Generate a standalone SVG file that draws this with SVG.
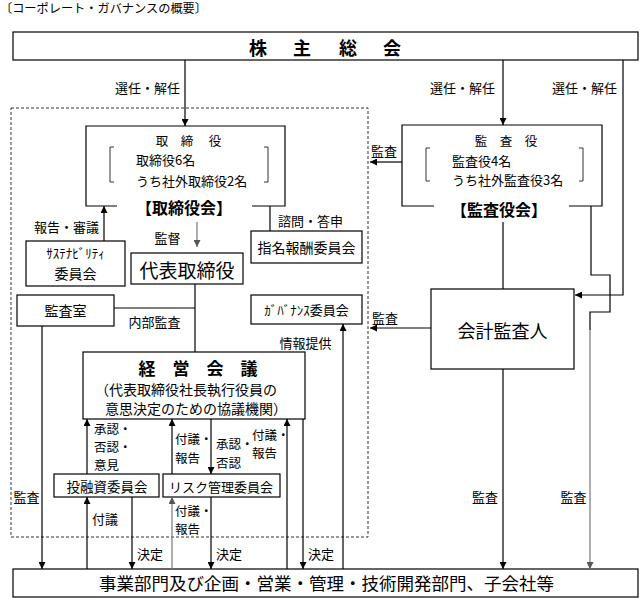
<svg xmlns="http://www.w3.org/2000/svg" width="640" height="598" viewBox="0 0 640 598">
<style>
text{font-family:"Noto Sans CJK JP","Noto Sans",sans-serif;fill:#000;dominant-baseline:central}
.lb{font-size:13px}
.sm{font-size:12.5px}
.bx{font-size:14px}
.c{text-anchor:middle}
.b{font-weight:bold}
.box{fill:#fff;stroke:#000;stroke-width:1.2}
.open{fill:none;stroke:#000;stroke-width:1.2}
.ln{fill:none;stroke:#000;stroke-width:1.2}
.gy{fill:none;stroke:#777;stroke-width:1.2}
.br{fill:none;stroke:#333;stroke-width:1}
</style>
<defs>
<marker id="ah" markerUnits="userSpaceOnUse" markerWidth="7" markerHeight="7" refX="7" refY="3.5" orient="auto"><path d="M0,0 L7,3.5 L0,7 z" fill="#000"/></marker>
<marker id="ahg" markerUnits="userSpaceOnUse" markerWidth="7" markerHeight="7" refX="7" refY="3.5" orient="auto"><path d="M0,0 L7,3.5 L0,7 z" fill="#555"/></marker>
</defs>
<rect width="640" height="598" fill="#fff"/>
<text x="0" y="8" style="font-size:12.2px">〔コーポレート・ガバナンスの概要〕</text>

<g id="outline"><rect x="11" y="108" width="357" height="429" fill="none" stroke="#333" stroke-width="1" stroke-dasharray="3,2"/></g>

<g id="shareholders">
<rect class="box" x="13" y="32" width="625" height="28"/>
<text class="c b" x="258" y="47" style="font-size:18px">株</text>
<text class="c b" x="302" y="47" style="font-size:18px">主</text>
<text class="c b" x="348" y="47" style="font-size:18px">総</text>
<text class="c b" x="392" y="47" style="font-size:18px">会</text>
</g>

<g id="board">
<path class="open" d="M117 206 H86 V126 H285 V206 H252"/>
<text class="c sm" x="162" y="140">取</text>
<text class="c sm" x="187" y="140">締</text>
<text class="c sm" x="215" y="140">役</text>
<path class="br" d="M114 147 H110 V182 H114 M264 147 H268 V182 H264"/>
<text class="lb" x="136" y="159">取締役6名</text>
<text class="lb" x="136" y="180">うち社外取締役2名</text>
<text class="c b" x="184" y="207" style="font-size:16px">【取締役会】</text>
</g>

<g id="auditors">
<path class="open" d="M434 206 H402 V125 H602 V206 H569"/>
<text class="c sm" x="481" y="140">監</text>
<text class="c sm" x="506" y="140">査</text>
<text class="c sm" x="531" y="140">役</text>
<path class="br" d="M430 148 H426 V181 H430 M579 148 H583 V181 H579"/>
<text class="lb" x="452" y="160">監査役4名</text>
<text class="lb" x="452" y="179">うち社外監査役3名</text>
<text class="c b" x="499" y="209" style="font-size:16px">【監査役会】</text>
</g>

<g id="sustainability">
<rect class="box" x="26" y="241" width="99" height="45"/>
<text class="c lb" x="75.5" y="252">ｻｽﾃﾅﾋﾞﾘﾃｨ</text>
<text class="c bx" x="75.5" y="273">委員会</text>
</g>

<g id="nomination">
<rect class="box" x="251" y="231" width="111" height="32"/>
<text class="c bx" x="306.5" y="247">指名報酬委員会</text>
</g>

<g id="representative">
<rect class="box" x="131" y="253" width="112" height="31"/>
<text class="c" x="187" y="269" style="font-size:19px">代表取締役</text>
</g>

<g id="audit-office">
<rect class="box" x="17" y="295" width="97" height="31"/>
<text class="c bx" x="65.5" y="310">監査室</text>
</g>

<g id="governance">
<rect class="box" x="251" y="295" width="111" height="29"/>
<text class="c lb" x="306.5" y="309">ｶﾞﾊﾞﾅﾝｽ委員会</text>
</g>

<g id="management">
<rect class="box" x="83" y="352" width="222" height="67"/>
<text class="c b" x="147" y="367" style="font-size:17px">経</text>
<text class="c b" x="181" y="367" style="font-size:17px">営</text>
<text class="c b" x="215" y="367" style="font-size:17px">会</text>
<text class="c b" x="249" y="367" style="font-size:17px">議</text>
<text class="c" x="186" y="389" style="font-size:14px">（代表取締役社長執行役員の</text>
<text class="c" x="196" y="408" style="font-size:14px">意思決定のための協議機関）</text>
</g>

<g id="investment">
<rect class="box" x="54" y="474" width="105" height="23"/>
<text class="c" x="107" y="486" style="font-size:13.5px">投融資委員会</text>
</g>

<g id="risk">
<rect class="box" x="163" y="474" width="117" height="23"/>
<text class="c" x="221" y="486" style="font-size:13px">リスク管理委員会</text>
</g>

<g id="accounting-auditor">
<rect class="box" x="431" y="289" width="143" height="80"/>
<text class="c" x="502.5" y="330" style="font-size:18px">会計監査人</text>
</g>

<g id="business">
<rect class="box" x="13" y="569" width="625" height="28"/>
<text class="c" x="326.5" y="582" style="font-size:17.5px">事業部門及び企画・営業・管理・技術開発部門、子会社等</text>
</g>

<g id="connectors">
<path class="ln" d="M185 60 V126" marker-end="url(#ah)"/>
<path class="ln" d="M503 60 V125" marker-end="url(#ah)"/>
<path class="ln" d="M623 60 V295 H575" marker-end="url(#ah)"/>
<path class="ln" d="M402 162 H370" marker-end="url(#ah)"/>
<path class="ln" d="M503 222 V289"/>
<path class="ln" d="M591 206 V275 H610 V312 H590 V330"/>
<path class="gy" d="M590 330 V569" marker-end="url(#ahg)"/>
<path class="ln" d="M431 328 H370" marker-end="url(#ah)"/>
<path class="ln" d="M503 369 V569" marker-end="url(#ah)"/>
<path class="ln" d="M104 241 V206" marker-end="url(#ah)"/>
<path class="gy" d="M197 222 V247" marker-end="url(#ahg)"/>
<path class="ln" d="M270 206 V231"/>
<path class="ln" d="M195 284 V352"/>
<path class="ln" d="M114 308 H195"/>
<path class="ln" d="M42 326 V569" marker-end="url(#ah)"/>
<path class="ln" d="M343 569 V324" marker-end="url(#ah)"/>
<path class="ln" d="M87 474 V419" marker-end="url(#ah)"/>
<path class="ln" d="M87 569 V497" marker-end="url(#ah)"/>
<path class="ln" d="M132 497 V569" marker-end="url(#ah)"/>
<path class="ln" d="M172 474 V419" marker-end="url(#ah)"/>
<path class="gy" d="M172 569 V497" marker-end="url(#ahg)"/>
<path class="ln" d="M211 419 V474" marker-end="url(#ah)"/>
<path class="ln" d="M211 497 V569" marker-end="url(#ah)"/>
<path class="ln" d="M287 569 V419" marker-end="url(#ah)"/>
<path class="ln" d="M303 419 V569" marker-end="url(#ah)"/>

<text class="c lb" x="147.5" y="87">選任・解任</text>
<text class="c lb" x="462.5" y="87">選任・解任</text>
<text class="c lb" x="584.5" y="87">選任・解任</text>
<text class="c lb" x="384" y="150">監査</text>
<text class="c lb" x="66.5" y="226">報告・審議</text>
<text class="c lb" x="167.5" y="237">監督</text>
<text class="c lb" x="310.5" y="220">諮問・答申</text>
<text class="c lb" x="154.5" y="321">内部監査</text>
<text class="c lb" x="305.5" y="342">情報提供</text>
<text class="c lb" x="385" y="317">監査</text>
<text class="c lb" x="26.5" y="496">監査</text>
<text class="c lb" x="485" y="496">監査</text>
<text class="c lb" x="573.5" y="496">監査</text>
<text class="sm" x="94" y="428">承認・</text>
<text class="sm" x="94" y="446">否認・</text>
<text class="sm" x="94" y="464">意見</text>
<text class="sm" x="175" y="438">付議・</text>
<text class="sm" x="175" y="457">報告</text>
<text class="sm" x="216" y="443">承認・</text>
<text class="sm" x="216" y="462">否認</text>
<text class="sm" x="252" y="434">付議・</text>
<text class="sm" x="252" y="452">報告</text>
<text class="lb" x="92" y="518">付議</text>
<text class="sm" x="175" y="510">付議・</text>
<text class="sm" x="175" y="528">報告</text>
<text class="lb" x="137" y="553">決定</text>
<text class="lb" x="216" y="553">決定</text>
<text class="lb" x="308" y="553">決定</text>
</g>
</svg>
